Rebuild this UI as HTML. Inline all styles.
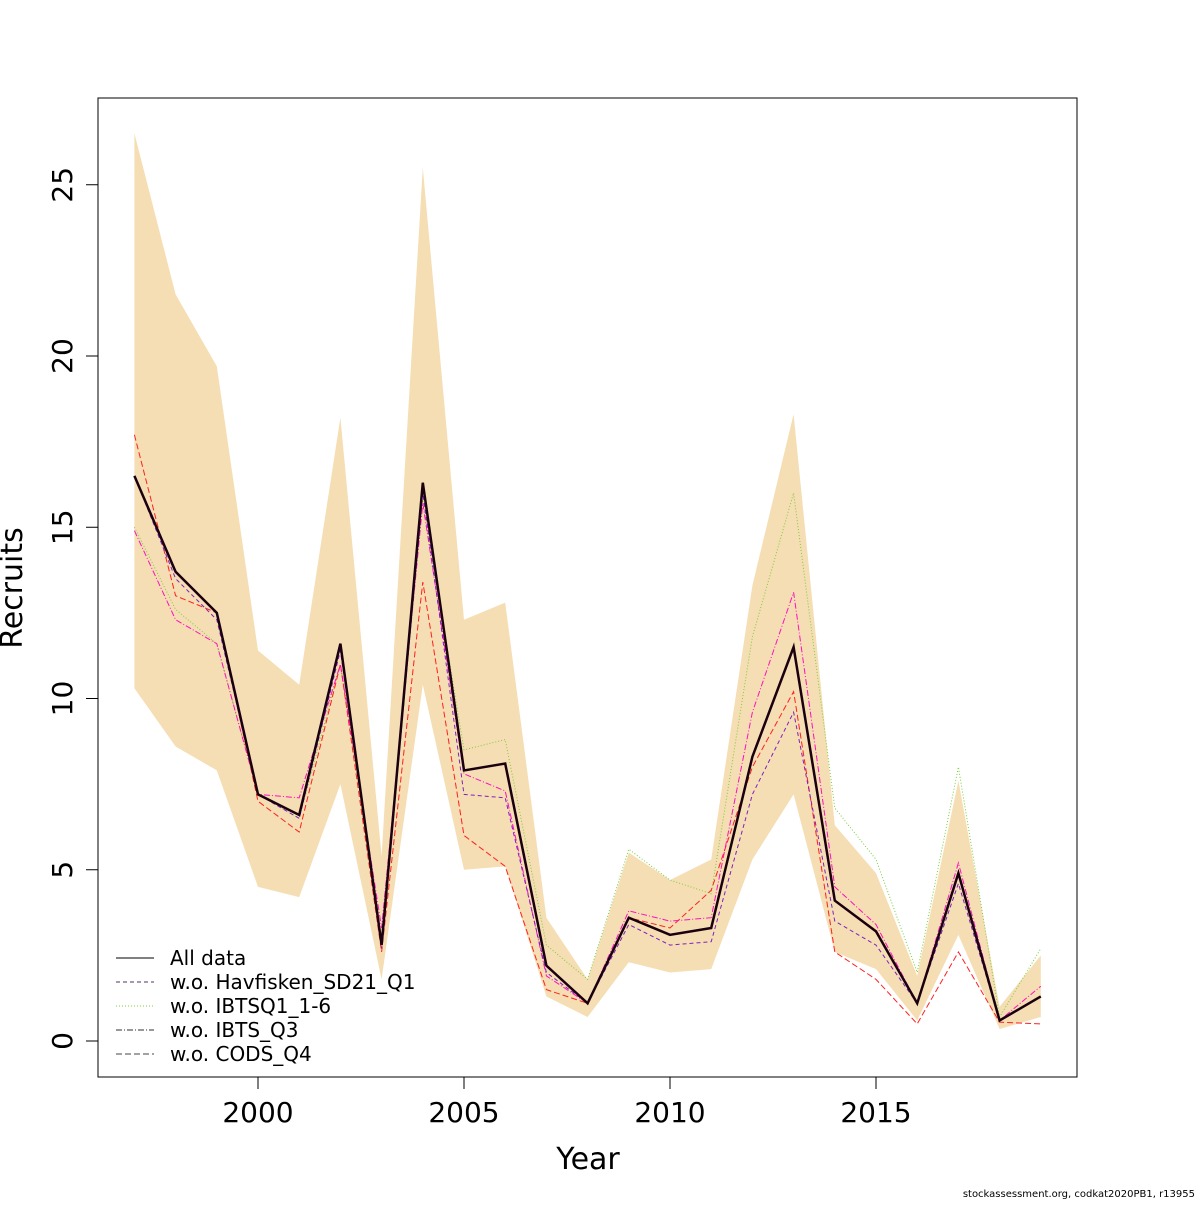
<!DOCTYPE html>
<html><head><meta charset="utf-8"><style>body{margin:0;background:#fff}svg{font-family:"DejaVu Sans","Liberation Sans",sans-serif}</style></head>
<body>
<svg id="c" width="1200" height="1200" xmlns="http://www.w3.org/2000/svg">
<rect width="1200" height="1200" fill="#fff"/>
<g id="g"></g>
</svg>
<script>
const years=[1997,1998,1999,2000,2001,2002,2003,2004,2005,2006,2007,2008,2009,2010,2011,2012,2013,2014,2015,2016,2017,2018,2019];
const allData=[16.5,13.7,12.5,7.2,6.6,11.6,2.8,16.3,7.9,8.1,2.2,1.1,3.6,3.1,3.3,8.3,11.5,4.1,3.2,1.1,4.9,0.6,1.3];
const upper=[26.5,21.8,19.7,11.4,10.4,18.2,5.4,25.5,12.3,12.8,3.6,1.8,5.5,4.7,5.3,13.3,18.3,6.3,4.9,1.9,7.6,1.0,2.5];
const lower=[10.3,8.6,7.9,4.5,4.2,7.5,1.8,10.4,5.0,5.1,1.3,0.7,2.3,2.0,2.1,5.3,7.2,2.6,2.1,0.6,3.1,0.35,0.7];
const havfisken=[16.5,13.5,12.3,7.2,6.5,11.4,2.7,16.0,7.2,7.1,2.0,1.1,3.4,2.8,2.9,7.2,9.6,3.5,2.8,1.1,4.6,0.6,1.3];
const ibtsq1=[15.0,12.6,11.6,7.2,6.5,11.0,3.0,15.8,8.5,8.8,2.8,1.8,5.6,4.7,4.3,11.8,16.0,6.8,5.3,2.0,8.0,0.7,2.7];
const ibtsq3=[14.9,12.3,11.6,7.2,7.1,11.0,3.3,15.7,7.8,7.3,1.9,1.1,3.8,3.5,3.6,9.6,13.1,4.5,3.4,1.1,5.2,0.6,1.6];
const cods=[17.7,13.0,12.5,7.0,6.1,11.0,2.6,13.4,6.0,5.1,1.5,1.1,3.6,3.3,4.4,8.0,10.2,2.6,1.8,0.5,2.6,0.55,0.5];
const xTicks=[2000,2005,2010,2015];
const yTicks=[0,5,10,15,20,25];
const X=v=>258+(v-2000)*41.2;
const Y=v=>1041-v*34.25;
const g=document.getElementById('g');
const NS='http://www.w3.org/2000/svg';
function mk(t,a,txt){const e=document.createElementNS(NS,t);for(const k in a)e.setAttribute(k,a[k]);if(txt!=null)e.textContent=txt;g.appendChild(e);return e;}
let pts=years.map((y,i)=>X(y)+','+Y(upper[i])).concat(years.map((y,i)=>X(y)+','+Y(lower[i])).reverse());
let band=mk('polygon',{points:pts.join(' '),fill:'#f5deb3'});


function line(d,col,w,dash,name){const p=mk('polyline',{points:years.map((y,i)=>X(y)+','+Y(d[i])).join(' '),fill:'none',stroke:col,'stroke-width':w,'stroke-dasharray':dash});

}
line(ibtsq1,'#7ccd3a',1,'1,2','line-wo-ibtsq1');
line(cods,'#ff2020',1,'6,3','line-wo-cods-q4');
line(ibtsq3,'#ff10c0',1,'6,2,1,2','line-wo-ibts-q3');
line(havfisken,'#8020c0',1,'4,3','line-wo-havfisken');
line(allData,'#1a0010',2.5,'','line-all-data');
const box=mk('rect',{x:98,y:98,width:979,height:979,fill:'none',stroke:'#000','stroke-width':1});


mk('line',{x1:X(2000),x2:X(2015),y1:1077,y2:1077,stroke:'#000'});
xTicks.forEach(t=>{mk('line',{x1:X(t),x2:X(t),y1:1077,y2:1089,stroke:'#000'});
const l=mk('text',{x:X(t),y:1122,'text-anchor':'middle','font-size':28},t);

});
yTicks.forEach(t=>{mk('line',{x1:86,x2:98,y1:Y(t),y2:Y(t),stroke:'#000'});
const l=mk('text',{x:0,y:0,'text-anchor':'middle','font-size':28,transform:`translate(72,${Y(t)}) rotate(-90)`},t);

});
const xt=mk('text',{x:588,y:1169,'text-anchor':'middle','font-size':30},'Year');


const yt=mk('text',{x:0,y:0,'text-anchor':'middle','font-size':30,transform:'translate(22,588) rotate(-90)'},'Recruits');


const leg=[['All data','#000','',1],['w.o. Havfisken_SD21_Q1','#503060','4,3',1],['w.o. IBTSQ1_1-6','#7ccd3a','1,2',1],['w.o. IBTS_Q3','#303030','6,2,1,2',1],['w.o. CODS_Q4','#444','6,3',1]];
leg.forEach((e,i)=>{const y=958+i*24;mk('line',{x1:116,x2:154,y1:y,y2:y,stroke:e[1],'stroke-dasharray':e[2],'stroke-width':e[3]});
const t=mk('text',{x:170,y:y+7,'font-size':20},e[0]);

});
const f=mk('text',{x:1195,y:1197,'text-anchor':'end','font-size':10},'stockassessment.org, codkat2020PB1, r13955');


</script>
</body></html>
